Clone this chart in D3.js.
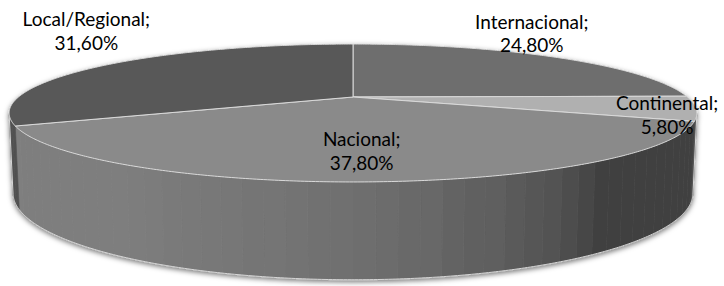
<!DOCTYPE html>
<html>
  <head>
    <meta charset="utf-8" />
    <title>Pie 3D</title>
    <script src="https://d3js.org/d3.v7.min.js"></script>
    <style>
      body { margin: 0; background: #fff; }
      text { font-family: Lato, "Open Sans", sans-serif; font-size: 19px; fill: #000; }
    </style>
  </head>
  <body>
    <svg width="724" height="286"></svg>

    <script type="text/javascript">
      // data
      var categories = ["Internacional", "Continental", "Nacional", "Local/Regional"];
      var shares = [24.8, 5.8, 37.8, 31.6];
      var topColors = ["#6e6e6e", "#b0b0b0", "#8a8a8a", "#585858"];

      // label nudges from the rim point at each slice's mid angle (layout only)
      var labelNudge = [[-23, -23.5], [-29, 6.5], [-5, -31], [-18, -34]];

      var pt = d3.formatLocale({ decimal: ",", thousands: ".", grouping: [3], currency: ["", ""] });
      var fmt = pt.format(".2f");

      var svg = d3.select("svg");

      // simple perspective camera looking down at the pie
      var cx = 353, cy = 97, focal = 1415, camDist = 4.23, depthH = 0.235;
      var tilt = 11.25 * Math.PI / 180;
      var sinT = Math.sin(tilt), cosT = Math.cos(tilt);

      function proj(t, r, h) {
        var st = Math.sin(t), ct = Math.cos(t);
        var depth = camDist - h * sinT + r * ct * cosT;
        return [cx + focal * r * st / depth, cy - focal * (h * cosT + r * ct * sinT) / depth];
      }

      function arcPts(a0, a1, h) {
        var n = Math.max(2, Math.ceil(Math.abs(a1 - a0) / (0.5 * Math.PI / 180)));
        return d3.range(n + 1).map(function (i) {
          return proj(a0 + (a1 - a0) * i / n, 1, h);
        });
      }

      var line = d3.line();
      var arcs = d3.pie().sort(null).value(function (d) { return d; })(shares);

      var defs = svg.append("defs");
      var f = defs.append("filter").attr("id", "shadow")
        .attr("x", "-5%").attr("y", "-10%").attr("width", "110%").attr("height", "130%");
      f.append("feDropShadow").attr("dx", 0).attr("dy", 2).attr("stdDeviation", 2.6)
        .attr("flood-color", "#000").attr("flood-opacity", 0.5);

      var pie = svg.append("g").attr("filter", "url(#shadow)");

      // visible side: outward normal faces camera
      var k = 1 / (camDist * cosT);
      var thetaMin = Math.acos(-k), thetaMax = 2 * Math.PI - thetaMin;

      // side lightness relative to the top colour, by angle in degrees
      var shade = d3.scaleLinear()
        .domain([104, 144, 147, 151, 156, 160, 170, 179, 196, 214, 256])
        .range([0.47, 0.47, 0.55, 0.60, 0.64, 0.68, 0.75, 0.80, 0.86, 0.91, 0.92])
        .clamp(true);

      var step = 3 * Math.PI / 180;
      var side = pie.append("g");
      arcs.forEach(function (a, i) {
        var s0 = Math.max(a.startAngle, thetaMin), s1 = Math.min(a.endAngle, thetaMax);
        if (s1 <= s0) return;
        var base = d3.rgb(topColors[i]);
        var g0 = Math.floor(s0 / step) * step;
        for (var t = g0; t < s1; t += step) {
          var t0 = Math.max(t, s0), t1 = Math.min(t + step, s1);
          if (t1 <= t0) continue;
          var m = shade((t0 + t1) / 2 * 180 / Math.PI);
          var col = d3.rgb(base.r * m, base.g * m, base.b * m).formatHex();
          var pts = arcPts(t0, t1, 0).concat(arcPts(t1, t0, -depthH));
          side.append("path")
            .attr("d", line(pts) + "Z")
            .attr("fill", col)
            .attr("stroke", col)
            .attr("stroke-width", 0.6);
        }
      });

      // light outline round the side
      var outline = [proj(thetaMin, 1, 0)].concat(arcPts(thetaMin, thetaMax, -depthH), [proj(thetaMax, 1, 0)]);
      pie.append("path")
        .attr("d", line(outline))
        .attr("fill", "none")
        .attr("stroke", "#d6d6d6")
        .attr("stroke-width", 1);

      // top faces
      pie.append("g").selectAll("path")
        .data(arcs)
        .enter()
        .append("path")
        .attr("d", function (a) {
          var pts = [proj(0, 0, 0)].concat(arcPts(a.startAngle, a.endAngle, 0));
          return line(pts) + "Z";
        })
        .attr("fill", function (a, i) { return topColors[i]; })
        .attr("stroke", "#d9d9d9")
        .attr("stroke-width", 1)
        .attr("stroke-linejoin", "round");

      // labels
      var labels = svg.append("g");
      arcs.forEach(function (a, i) {
        var mid = (a.startAngle + a.endAngle) / 2;
        var p = proj(mid, 1, 0);
        var x = p[0] + labelNudge[i][0], y = p[1] + labelNudge[i][1];
        var t = labels.append("text").attr("text-anchor", "middle");
        t.append("tspan").attr("x", x).attr("y", y - 4.9).text(categories[i] + ";");
        t.append("tspan").attr("x", x).attr("y", y - 4.9 + 23.5).text(fmt(a.value) + "%");
      });
    </script>
  </body>
</html>
